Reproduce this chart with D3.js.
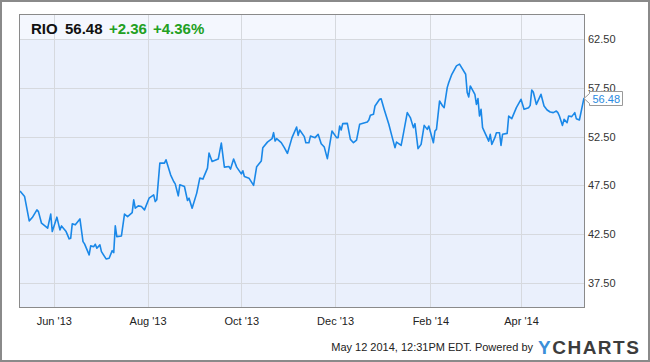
<!DOCTYPE html>
<html>
<head>
<meta charset="utf-8">
<script src="https://cdn.jsdelivr.net/npm/d3@7"></script>
<style>
  body { margin: 0; background: #fff; }
  svg { display: block; font-family: "Liberation Sans", Arial, sans-serif; }
</style>
</head>
<body>
<div id="chart"></div>
<script>
/* RIO PRICE, MAY 2013 - MAY 2014 */

var ticker = "RIO";
var lastPrice = 56.48;
var change = "+2.36";
var changePct = "+4.36%";

var dates = [
  "2013-05-10","2013-05-13","2013-05-16","2013-05-18","2013-05-21","2013-05-22","2013-05-24","2013-05-28","2013-05-30","2013-05-31",
  "2013-06-03","2013-06-05","2013-06-06","2013-06-09","2013-06-11","2013-06-12","2013-06-13","2013-06-15","2013-06-18","2013-06-20",
  "2013-06-21","2013-06-24","2013-06-25","2013-06-27","2013-06-28","2013-06-29","2013-07-01","2013-07-02","2013-07-05","2013-07-07",
  "2013-07-09","2013-07-10","2013-07-11","2013-07-12","2013-07-15","2013-07-17","2013-07-19","2013-07-22","2013-07-23","2013-07-24",
  "2013-07-26","2013-07-28","2013-07-30","2013-08-02","2013-08-05","2013-08-06","2013-08-07","2013-08-09","2013-08-12","2013-08-13",
  "2013-08-16","2013-08-18","2013-08-19","2013-08-21","2013-08-22","2013-08-25","2013-08-27","2013-08-28","2013-08-30","2013-09-02",
  "2013-09-04","2013-09-06","2013-09-09","2013-09-10","2013-09-12","2013-09-16","2013-09-18","2013-09-20","2013-09-23","2013-09-24",
  "2013-09-26","2013-09-28","2013-10-01","2013-10-02","2013-10-03","2013-10-06","2013-10-09","2013-10-11","2013-10-14","2013-10-15",
  "2013-10-18","2013-10-21","2013-10-22","2013-10-23","2013-10-24","2013-10-27","2013-10-29","2013-10-31","2013-11-03","2013-11-06",
  "2013-11-07","2013-11-08","2013-11-11","2013-11-12","2013-11-14","2013-11-15","2013-11-18","2013-11-20","2013-11-22","2013-11-24",
  "2013-11-26","2013-11-29","2013-12-02","2013-12-03","2013-12-04","2013-12-05","2013-12-06","2013-12-09","2013-12-11","2013-12-13",
  "2013-12-15","2013-12-17","2013-12-22","2013-12-23","2013-12-24","2013-12-26","2013-12-27","2013-12-30","2013-12-31","2014-01-02",
  "2014-01-05","2014-01-07","2014-01-09","2014-01-10","2014-01-13","2014-01-14","2014-01-17","2014-01-19","2014-01-21","2014-01-22",
  "2014-01-24","2014-01-26","2014-01-28","2014-01-30","2014-01-31","2014-02-03","2014-02-04","2014-02-05","2014-02-07","2014-02-09",
  "2014-02-10","2014-02-12","2014-02-13","2014-02-15","2014-02-18","2014-02-20","2014-02-24","2014-02-25","2014-02-26","2014-02-27",
  "2014-03-02","2014-03-03","2014-03-04","2014-03-05","2014-03-06","2014-03-07","2014-03-09","2014-03-11","2014-03-12","2014-03-13",
  "2014-03-15","2014-03-16","2014-03-18","2014-03-19","2014-03-20","2014-03-23","2014-03-24","2014-03-26","2014-03-29","2014-04-01",
  "2014-04-03","2014-04-06","2014-04-07","2014-04-08","2014-04-09","2014-04-11","2014-04-14","2014-04-16","2014-04-18","2014-04-20",
  "2014-04-22","2014-04-24","2014-04-25","2014-04-26","2014-04-28","2014-04-29","2014-05-01","2014-05-02","2014-05-04","2014-05-06",
  "2014-05-07","2014-05-09","2014-05-12"
];

var prices = [
  46.93,46.35,43.85,44.19,44.98,44.80,43.61,43.10,44.54,42.75,
  44.23,42.92,43.33,42.75,42.00,42.07,43.54,43.44,44.05,41.72,
  41.48,40.35,41.28,41.20,41.45,41.04,41.38,40.69,39.94,40.01,
  40.79,40.59,43.33,42.23,42.30,44.54,44.29,44.70,46.01,45.15,
  45.39,45.32,44.98,46.18,46.52,45.83,46.01,49.78,49.78,50.12,
  48.58,47.89,47.65,46.42,47.55,47.38,45.94,46.18,45.15,46.70,
  48.24,48.14,49.27,50.81,49.95,50.20,51.84,49.37,49.43,49.17,
  50.20,49.37,48.68,48.99,48.41,48.24,47.49,49.41,49.99,51.37,
  51.94,52.29,52.91,52.05,52.29,51.88,51.37,50.78,52.40,53.49,
  52.63,53.18,52.50,51.88,51.88,52.56,52.40,52.74,51.78,51.43,
  50.24,53.08,52.40,52.40,53.59,53.18,53.84,53.87,52.22,51.88,
  52.15,53.77,54.00,54.20,54.69,54.80,55.65,56.34,56.40,55.30,
  53.77,52.56,51.37,51.94,51.60,52.40,54.97,54.46,53.43,53.84,
  51.27,51.71,53.66,53.25,53.59,51.88,53.08,53.25,56.16,55.65,
  55.48,57.54,58.06,58.91,59.77,59.95,58.91,57.03,56.58,57.71,
  56.85,55.82,56.41,54.62,55.31,53.43,52.74,52.05,52.74,51.71,
  52.40,52.91,52.91,51.60,52.74,52.84,54.62,54.35,55.48,56.34,
  55.31,55.48,55.72,57.29,57.09,55.82,56.85,55.65,55.24,55.03,
  54.97,55.13,54.97,54.62,53.66,54.28,53.94,54.62,54.56,54.97,
  54.35,54.21,56.48
];

var xTicks = ["2013-06-01","2013-08-01","2013-10-01","2013-12-01","2014-02-01","2014-04-01"];
var yTicks = [37.5, 42.5, 47.5, 52.5, 57.5, 62.5];
var xDomain = ["2013-05-10","2014-05-12"];
var yDomain = [35, 65];

var footerText = "May 12 2014, 12:31PM EDT.  Powered by";

function drawChart(){

  var w = 650;
  var h = 362;
  var plot = {left: 20, top: 15, right: 584, bottom: 307};

  var parse = d3.timeParse("%Y-%m-%d");
  var data = dates.map(function(d, i){ return {date: parse(d), price: prices[i]}; });

  var x = d3.scaleTime()
            .domain(xDomain.map(parse))
            .range([plot.left, plot.right]);

  var y = d3.scaleLinear()
            .domain(yDomain)
            .range([plot.bottom, plot.top]);

  var svg = d3.select("#chart").append("svg")
              .attr("width", w)
              .attr("height", h);

  // outer frame
  svg.append("rect")
     .attr("x", 1).attr("y", 1)
     .attr("width", w - 2).attr("height", h - 2)
     .attr("fill", "#fff")
     .attr("stroke", "#8a8a8a")
     .attr("stroke-width", 2);

  // plot background
  svg.append("rect")
     .attr("x", plot.left).attr("y", plot.top)
     .attr("width", plot.right - plot.left)
     .attr("height", plot.bottom - plot.top)
     .attr("fill", "#eaf0fc");

  // header band
  svg.append("rect")
     .attr("x", plot.left).attr("y", plot.top)
     .attr("width", plot.right - plot.left)
     .attr("height", y(62.5) - plot.top)
     .attr("fill", "#f4f7fe");

  // gridlines
  svg.append("g")
     .selectAll("line.hgrid")
     .data(yTicks)
     .enter().append("line")
     .attr("x1", plot.left).attr("x2", plot.right)
     .attr("y1", function(d){ return Math.round(y(d)) + 0.5; })
     .attr("y2", function(d){ return Math.round(y(d)) + 0.5; })
     .attr("stroke", "#d6d9de");

  svg.append("g")
     .selectAll("line.vgrid")
     .data(xTicks.map(parse))
     .enter().append("line")
     .attr("x1", function(d){ return Math.round(x(d)) + 0.5; })
     .attr("x2", function(d){ return Math.round(x(d)) + 0.5; })
     .attr("y1", plot.top).attr("y2", plot.bottom)
     .attr("stroke", "#d6d9de");

  // price line
  var line = d3.line()
               .x(function(d){ return x(d.date); })
               .y(function(d){ return y(d.price); });

  svg.append("path")
     .datum(data)
     .attr("fill", "none")
     .attr("stroke", "#1a88e8")
     .attr("stroke-width", 1.6)
     .attr("stroke-linejoin", "round")
     .attr("d", line);

  // plot border
  svg.append("rect")
     .attr("x", plot.left - 0.5).attr("y", plot.top - 0.5)
     .attr("width", plot.right - plot.left + 1)
     .attr("height", plot.bottom - plot.top + 1)
     .attr("fill", "none")
     .attr("stroke", "#8a8a8a")
     .attr("stroke-width", 1);

  // axes
  var yAxis = d3.axisRight(y)
                .tickValues(yTicks)
                .tickFormat(d3.format(".2f"))
                .tickSize(0)
                .tickPadding(4);

  var gy = svg.append("g")
              .attr("transform", "translate(" + plot.right + ",0)")
              .call(yAxis);
  gy.select(".domain").remove();
  gy.selectAll("text").attr("fill", "#333").style("font-size", "11px");

  var xAxis = d3.axisBottom(x)
                .tickValues(xTicks.map(parse))
                .tickFormat(d3.timeFormat("%b '%y"))
                .tickSize(0)
                .tickPadding(10);

  var gx = svg.append("g")
              .attr("transform", "translate(0," + plot.bottom + ")")
              .call(xAxis);
  gx.select(".domain").remove();
  gx.selectAll("text").attr("fill", "#222").style("font-size", "11px");

  // header text
  var header = svg.append("text")
                  .attr("x", 31)
                  .attr("y", 34)
                  .style("font-size", "15px")
                  .style("font-weight", "bold");
  header.append("tspan").attr("fill", "#111").text(ticker);
  header.append("tspan").attr("x", 65).attr("fill", "#111").text(lastPrice.toFixed(2));
  header.append("tspan").attr("x", 109).attr("fill", "#22a022").text(change);
  header.append("tspan").attr("x", 153).attr("fill", "#22a022").text(changePct);

  // last value flag
  var last = data[data.length - 1];
  var ly = Math.round(y(last.price)) + 0.5;
  var bx = plot.right + 5.5;
  svg.append("path")
     .attr("d", "M" + plot.right + "," + ly +
                " L" + bx + "," + (ly - 5) +
                " L" + bx + "," + (ly - 7) +
                " L" + (bx + 33) + "," + (ly - 7) +
                " L" + (bx + 33) + "," + (ly + 7) +
                " L" + bx + "," + (ly + 7) +
                " L" + bx + "," + (ly + 5) + " Z")
     .attr("fill", "#fff")
     .attr("stroke", "#999");

  svg.append("text")
     .attr("x", bx + 3)
     .attr("y", ly + 4)
     .attr("fill", "#2a8ae0")
     .style("font-size", "11px")
     .text(last.price.toFixed(2));

  // footer
  svg.append("text")
     .attr("x", 533)
     .attr("y", 351)
     .attr("text-anchor", "end")
     .attr("fill", "#222")
     .style("font-size", "11px")
     .text(footerText);

  var logo = svg.append("text")
                .attr("x", 538)
                .attr("y", 354)
                .style("font-size", "19px")
                .style("font-weight", "bold")
                .style("letter-spacing", "1.5px");
  logo.append("tspan").attr("fill", "#3b8fd9").text("Y");
  logo.append("tspan").attr("fill", "#3c3c3c").text("CHARTS");

};

drawChart();
</script>
</body>
</html>
